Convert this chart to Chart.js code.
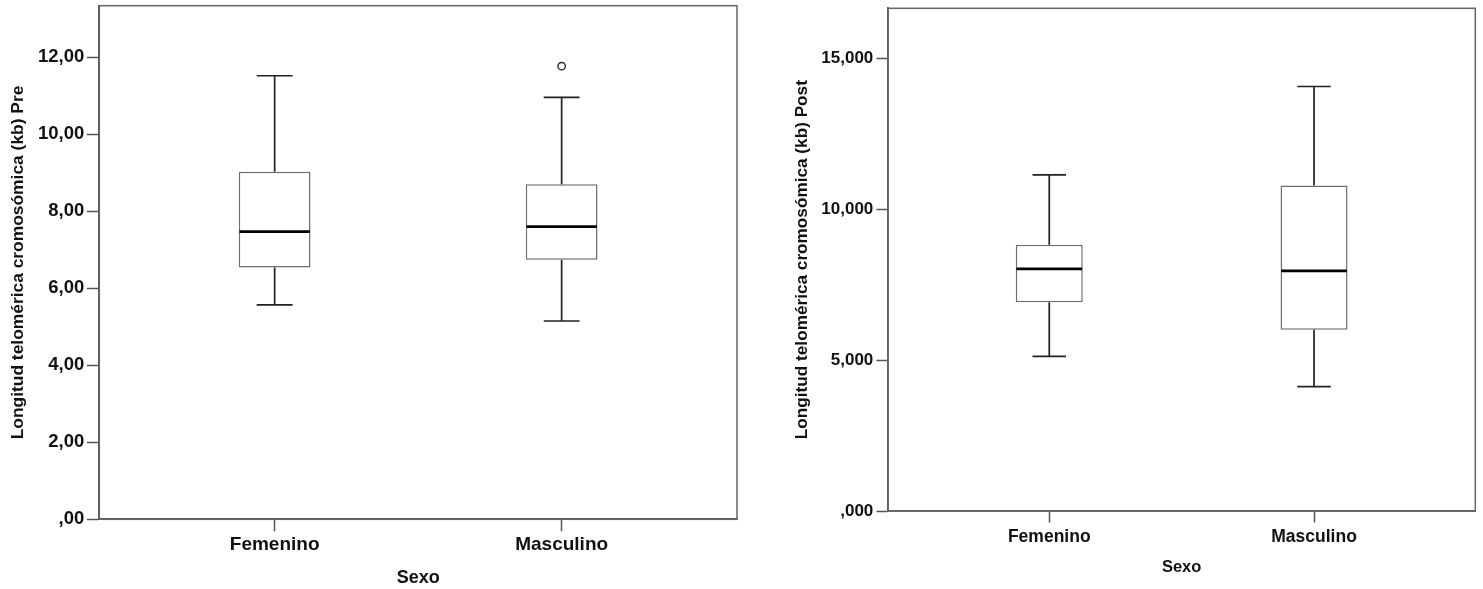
<!DOCTYPE html>
<html>
<head>
<meta charset="utf-8">
<script src="https://cdn.jsdelivr.net/npm/chart.js@4"></script>
<style>
  html, body { margin: 0; padding: 0; background: #ffffff; }
  #wrap { position: relative; width: 1483px; height: 589px; overflow: hidden; }
  .pane { position: absolute; top: 0; }
</style>
</head>
<body>
<div id="wrap">
  <div class="pane" style="left:0px"><canvas id="pre" width="760" height="589"></canvas></div>
  <div class="pane" style="left:760px"><canvas id="post" width="723" height="589"></canvas></div>
</div>
<script>
// ---------- data ----------
const categories = ['Femenino', 'Masculino'];

// Pre
const preMin    = [5.57, 5.15];
const preQ1     = [6.54, 6.74];
const preMedian = [7.47, 7.60];
const preQ3     = [9.03, 8.70];
const preMax    = [11.52, 10.96];
const preOutliers = [[], [11.77]];
const preTickValues = [0, 2, 4, 6, 8, 10, 12];
const preTickLabels = [',00', '2,00', '4,00', '6,00', '8,00', '10,00', '12,00'];

// Post
const postMin    = [5.12, 4.12];
const postQ1     = [6.91, 6.00];
const postMedian = [8.02, 7.95];
const postQ3     = [8.82, 10.78];
const postMax    = [11.13, 14.06];
const postOutliers = [[], []];
const postTickValues = [0, 5, 10, 15];
const postTickLabels = [',000', '5,000', '10,000', '15,000'];

const xTitle = 'Sexo';
const preTitle = 'Longitud telomérica cromosómica (kb) Pre';
const postTitle = 'Longitud telomérica cromosómica (kb) Post';

// ---------- helpers ----------
const FONT = "'Liberation Sans', Arial, Helvetica, sans-serif";

function makeBoxPlugin(mins, medians, maxs) {
  return {
    id: 'boxWhiskers',
    afterDatasetsDraw(chart) {
      const { ctx, chartArea, scales } = chart;
      const x = scales.x, y = scales.y;
      const meta = chart.getDatasetMeta(0);
      ctx.save();
      ctx.lineCap = 'butt';
      meta.data.forEach((bar, i) => {
        const cx = x.getPixelForValue(i);
        const half = bar.width / 2;
        const pMin = y.getPixelForValue(mins[i]);
        const pMax = y.getPixelForValue(maxs[i]);
        const pMed = y.getPixelForValue(medians[i]);
        const top = Math.min(bar.y, bar.base);
        const bot = Math.max(bar.y, bar.base);
        ctx.strokeStyle = '#222222';
        ctx.lineWidth = 1.7;
        ctx.beginPath();
        ctx.moveTo(cx, top); ctx.lineTo(cx, pMax);
        ctx.moveTo(cx, bot); ctx.lineTo(cx, pMin);
        ctx.moveTo(cx - half / 2, pMax); ctx.lineTo(cx + half / 2, pMax);
        ctx.moveTo(cx - half / 2, pMin); ctx.lineTo(cx + half / 2, pMin);
        ctx.stroke();
        ctx.strokeStyle = '#000000';
        ctx.lineWidth = 2.7;
        ctx.beginPath();
        ctx.moveTo(cx - half + 0.7, pMed); ctx.lineTo(cx + half - 0.7, pMed);
        ctx.stroke();
      });
      ctx.strokeStyle = '#666666';
      ctx.lineWidth = 1.5;
      ctx.strokeRect(chartArea.left, chartArea.top, chartArea.right - chartArea.left, chartArea.bottom - chartArea.top);
      ctx.restore();
    }
  };
}

function buildChart(canvasId, cfg) {
  const boxes = categories.map((c, i) => ({ x: i, y: [cfg.q1[i], cfg.q3[i]] }));
  const outPts = [];
  cfg.outliers.forEach((arr, i) => arr.forEach(v => outPts.push({ x: i, y: v })));

  return new Chart(document.getElementById(canvasId), {
    type: 'bar',
    data: {
      datasets: [
        {
          type: 'bar',
          data: boxes,
          backgroundColor: '#ffffff',
          borderColor: '#6e6e6e',
          borderWidth: 1.5,
          borderSkipped: false,
          barPercentage: cfg.barPct,
          categoryPercentage: 1.0
        },
        {
          type: 'scatter',
          data: outPts,
          pointStyle: 'circle',
          pointRadius: 3.7,
          pointBackgroundColor: '#ffffff',
          pointBorderColor: '#2a2a2a',
          pointBorderWidth: 1.4
        }
      ]
    },
    options: {
      responsive: false,
      devicePixelRatio: 1,
      animation: false,
      events: [],
      layout: { padding: cfg.padding },
      plugins: { legend: { display: false }, tooltip: { enabled: false } },
      scales: {
        x: {
          type: 'linear',
          min: cfg.xMin, max: cfg.xMax,
          offset: false,
          afterBuildTicks(s) { s.ticks = categories.map((c, i) => ({ value: i })); },
          afterFit(s) { s.height = cfg.xAxisHeight; s.paddingLeft = 0; s.paddingRight = 0; },
          grid: { offset: false, drawOnChartArea: false, drawTicks: true, tickLength: cfg.xTickLen, tickColor: '#555555', tickWidth: 1.5 },
          border: { display: true, color: '#555555', width: 1.8 },
          ticks: {
            autoSkip: false, maxRotation: 0,
            padding: cfg.xTickPad,
            color: '#111111',
            font: { family: FONT, size: cfg.catSize, weight: 'bold' },
            callback: (v) => categories[Math.round(v)]
          },
          title: {
            display: true, text: xTitle, color: '#111111',
            font: { family: FONT, size: cfg.xTitleSize, weight: 'bold' },
            padding: { top: 0, bottom: cfg.xTitlePad }
          }
        },
        y: {
          type: 'linear',
          min: 0, max: cfg.yMax,
          afterBuildTicks(s) { s.ticks = cfg.tickValues.map(v => ({ value: v })); },
          afterFit(s) { s.width = cfg.yAxisWidth; s.paddingTop = 0; s.paddingBottom = 0; },
          grid: { drawOnChartArea: false, drawTicks: true, tickLength: cfg.yTickLen, tickColor: '#555555', tickWidth: 1.5 },
          border: { display: true, color: '#555555', width: 1.8 },
          ticks: {
            padding: cfg.yTickPad,
            color: '#111111',
            font: { family: FONT, size: cfg.tickSize, weight: 'bold' },
            callback: (v) => { const k = cfg.tickValues.indexOf(v); return k >= 0 ? cfg.tickLabels[k] : ''; }
          },
          title: {
            display: true, text: cfg.title, color: '#111111',
            font: { family: FONT, size: cfg.yTitleSize, weight: 'bold' },
            padding: { top: cfg.yTitlePad, bottom: 0 }
          }
        }
      }
    },
    plugins: [makeBoxPlugin(cfg.min, cfg.median, cfg.max)]
  });
}

buildChart('pre', {
  q1: preQ1, q3: preQ3, min: preMin, max: preMax, median: preMedian, outliers: preOutliers,
  tickValues: preTickValues, tickLabels: preTickLabels, title: preTitle,
  yMax: 13.34, xMin: -0.611, xMax: 1.611, barPct: 0.25,
  padding: { left: 0, top: 5.7, right: 23, bottom: 0 },
  yAxisWidth: 99.3, xAxisHeight: 69.7,
  xTickLen: 12, xTickPad: 1.8, yTickLen: 12.5, yTickPad: 2.5,
  catSize: 19, tickSize: 18.5, xTitleSize: 18, yTitleSize: 17.4,
  xTitlePad: 0.2, yTitlePad: 8
});

buildChart('post', {
  q1: postQ1, q3: postQ3, min: postMin, max: postMax, median: postMedian, outliers: postOutliers,
  tickValues: postTickValues, tickLabels: postTickLabels, title: postTitle,
  yMax: 16.65, xMin: -0.609, xMax: 1.609, barPct: 0.253,
  padding: { left: 0, top: 8.3, right: 7.7, bottom: 0 },
  yAxisWidth: 128, xAxisHeight: 78,
  xTickLen: 11.5, xTickPad: 3.7, yTickLen: 11.5, yTickPad: 3.2,
  catSize: 17.5, tickSize: 17, xTitleSize: 16.5, yTitleSize: 17.2,
  xTitlePad: 11.6, yTitlePad: 31.5
});
</script>
</body>
</html>
